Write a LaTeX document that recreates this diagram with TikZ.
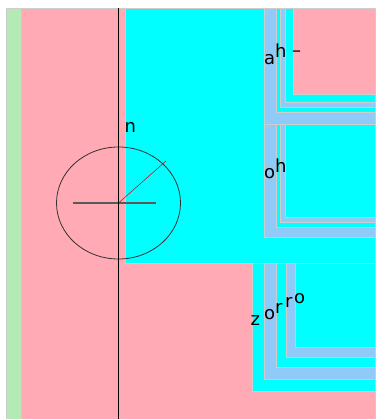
\documentclass[tikz,border=0pt]{standalone}
\usepackage{fontspec}
\setmainfont{DejaVu Sans}
\definecolor{pinkc}{RGB}{255,170,180}
\definecolor{greenc}{RGB}{180,234,180}
\definecolor{cyanc}{RGB}{0,255,255}
\definecolor{bluec}{RGB}{144,202,249}
\definecolor{edgec}{RGB}{205,205,205}
\tikzset{
  px/.style={x=1pt,y=-1pt},
  area/.style={draw=edgec,line width=0.5pt},
  lbl/.style={inner sep=0pt,anchor=base west,font=\fontsize{18}{18}\selectfont},
}
\begin{document}
\begin{tikzpicture}[px]
\useasboundingbox[fill=white] (0,0) rectangle (375,419);
% background strips
\fill[greenc,area] (6,8) rectangle (21,419);
\fill[pinkc,area] (21,8) rectangle (375,419);
\fill[cyanc,area] (125,8) rectangle (375,263);
% top box
\fill[bluec,area] (264,8) rectangle (375,124);
\fill[cyanc,area] (276,8) rectangle (375,112);
\fill[bluec,area] (280,8) rectangle (375,107);
\fill[cyanc,area] (285,8) rectangle (375,102);
\fill[pinkc,area] (293,8) rectangle (375,94);
% middle box
\fill[bluec,area] (264,124) rectangle (375,237);
\fill[cyanc,area] (276,124) rectangle (375,227);
\fill[bluec,area] (280,124) rectangle (375,222);
\fill[cyanc,area] (285,124) rectangle (375,217);
% bottom box
\fill[cyanc,area] (252,263) rectangle (375,391);
\fill[bluec,area] (264,263) rectangle (375,379);
\fill[cyanc,area] (276,263) rectangle (375,367);
\fill[bluec,area] (286,263) rectangle (375,357);
\fill[cyanc,area] (295,263) rectangle (375,347);
% circle and lines
\coordinate (c) at (118.5,203);
\coordinate (top) at (118.5,8);
\coordinate (bot) at (118.5,419);
\coordinate (hl) at (73,203);
\coordinate (hr) at (156,203);
\coordinate (rr) at (166,161);
\draw[black!80,line width=0.8pt] (c) ellipse [x radius=62,y radius=56];
\draw[black!65,line width=1.1pt] (hl) -- (hr);
\draw[red!80!black,line width=0.5pt] (c) -- (rr);
\draw[black,line width=0.8pt] (top) -- (bot);
% labels
\node[lbl] (n) at (124.5,133) {n};
\node[lbl] (a1) at (264,65) {a};
\node[lbl] (h1) at (275,58) {h};
\node[lbl] (d1) at (292,57) {–};
\node[lbl] (o2) at (264,179) {o};
\node[lbl] (h2) at (275,173) {h};
\node[lbl] (z3) at (250.5,325) {z};
\node[lbl] (o3) at (264,319) {o};
\node[lbl] (r3) at (275,313) {r};
\node[lbl] (r4) at (285,307) {r};
\node[lbl] (o4) at (294,303) {o};
\end{tikzpicture}
\end{document}
